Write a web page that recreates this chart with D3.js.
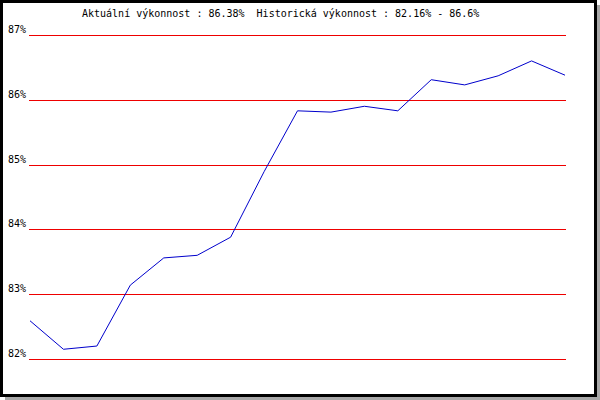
<!DOCTYPE html>
<html>
<head>
<meta charset="utf-8">
<script src="https://cdn.jsdelivr.net/npm/d3@7"></script>
<style>
  body { margin: 0; background: #fff; }
  svg text { font-family: "DejaVu Sans Mono", monospace; font-size: 10px; fill: #000; white-space: pre; }
</style>
</head>
<body>
<div id="chart"></div>
<script>
// values
const points = d3.range(17);
const values = [82.59, 82.15, 82.2, 83.14, 83.56, 83.6, 83.88, 84.89, 85.83, 85.81,
                85.9, 85.83, 86.31, 86.23, 86.37, 86.6, 86.38];
const yTicks = [82, 83, 84, 85, 86, 87];
const title = "Aktuální výkonnost : 86.38%  Historická výkonnost : 82.16% - 86.6%";

const W = 600, H = 400;
const margin = { top: 35, right: 35, bottom: 41, left: 30 };

const svg = d3.select("#chart").append("svg")
    .attr("width", W)
    .attr("height", H);

// shadow + frame
svg.append("rect").attr("x", 5).attr("y", 5).attr("width", 595).attr("height", 395).attr("fill", "#a8a8a8");
svg.append("rect").attr("x", 1.5).attr("y", 1.5).attr("width", 594).attr("height", 394)
    .attr("fill", "#fff").attr("stroke", "#000").attr("stroke-width", 3);

const xScale = d3.scaleLinear().domain([0, points.length - 1]).range([margin.left, W - margin.right]);
const yScale = d3.scaleLinear().domain([82, 87]).range([H - margin.bottom, margin.top]);

svg.append("text")
    .attr("x", 82)
    .attr("y", 17)
    .text(title);

// grid lines
svg.selectAll(".grid")
    .data(yTicks)
    .enter()
    .append("line")
    .attr("class", "grid")
    .attr("x1", margin.left - 1)
    .attr("x2", W - margin.right + 1)
    .attr("y1", d => Math.round(yScale(d)) + 0.5)
    .attr("y2", d => Math.round(yScale(d)) + 0.5)
    .attr("stroke", "#ee0000")
    .attr("stroke-width", 1);

svg.selectAll(".ylab")
    .data(yTicks)
    .enter()
    .append("text")
    .attr("class", "ylab")
    .attr("x", 26)
    .attr("y", d => Math.round(yScale(d)) - 2)
    .attr("text-anchor", "end")
    .text(d => d + "%");

const line = d3.line()
    .x((d, i) => xScale(i))
    .y(d => yScale(d));

svg.append("path")
    .datum(values)
    .attr("d", line)
    .attr("fill", "none")
    .attr("stroke", "#0000cc")
    .attr("stroke-width", 1);
</script>
</body>
</html>
